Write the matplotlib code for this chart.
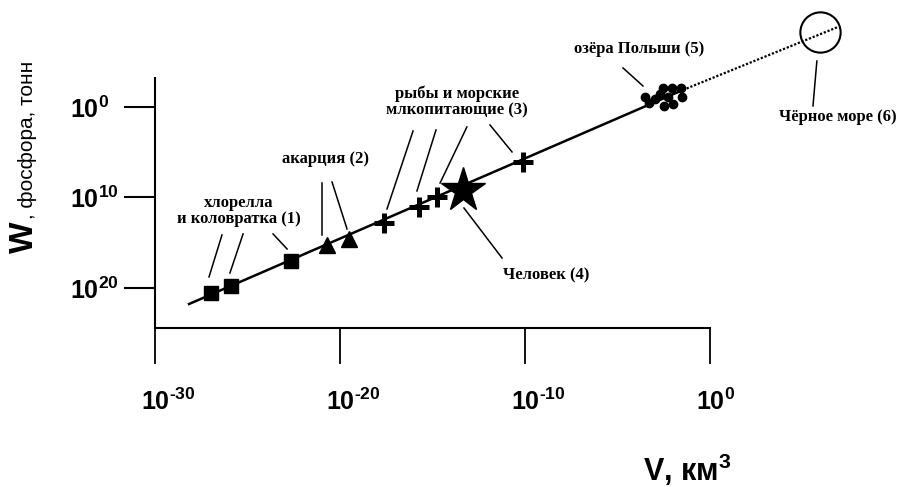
import matplotlib
matplotlib.use("Agg")
import matplotlib.pyplot as plt
from matplotlib.transforms import ScaledTranslation

plt.rcParams['mathtext.fontset'] = 'custom'
plt.rcParams['mathtext.bf'] = 'Liberation Sans:bold'
plt.rcParams['mathtext.rm'] = 'Liberation Sans'

# data: x = log10(V, km^3), y = exponent of W as drawn (10^0 top ... 10^20 bottom)
chlorella_x = [-26.97, -25.89, -22.65]
chlorella_y = [20.55, 19.78, 17.02]
acartia_x = [-20.70, -19.51]
acartia_y = [15.25, 14.59]
fish_x = [-17.62, -15.73, -14.76, -10.11]
fish_y = [12.82, 11.05, 9.94, 6.08]
human_x = [-13.35]
human_y = [9.17]
lakes_x = [-3.51, -3.30, -2.97, -2.70, -2.54, -2.49, -2.27, -2.05, -2.00, -1.57, -1.51]
lakes_y = [-1.10, -0.44, -0.88, -1.44, -2.10, -0.11, -1.10, -2.10, -0.33, -2.10, -1.10]
black_sea_x = [5.95]
black_sea_y = [-8.29]

fit_x = [-28.16, -1.46]
fit_y = [21.77, -1.88]
extrap_x = [-1.46, 6.92]
extrap_y = [-1.88, -8.84]

HY = '\u2010'
x_ticks = [-30, -20, -10, 0]
x_labels = [r'$\mathbf{10^{%s30}}$' % HY, r'$\mathbf{10^{%s20}}$' % HY,
            r'$\mathbf{10^{%s10}}$' % HY, r'$\mathbf{10^{0}}$']
y_ticks = [0, 10, 20]
y_labels = [r'$\mathbf{10^{0}}$', r'$\mathbf{10^{10}}$', r'$\mathbf{10^{20}}$']

# labels and their leader lines (x0, y0, x1, y1)
labels = [
    ("хлорелла\nи коловратка (1)", -25.46, 11.49),
    ("акарция (2)", -20.81, 5.75),
    ("рыбы и морские\nмлкопитающие (3)", -13.68, -0.55),
    ("Человек (4)", -8.86, 18.56),
    ("озёра Польши (5)", -3.84, -6.41),
    ("Чёрное море (6)", 6.92, 1.10),
]
leaders = [
    (-26.38, 14.14, -27.08, 18.78),
    (-25.24, 14.03, -25.95, 18.34),
    (-23.62, 14.03, -22.86, 15.69),
    (-20.97, 8.40, -20.97, 14.14),
    (-20.43, 8.29, -19.62, 13.48),
    (-16.05, 2.65, -17.46, 11.27),
    (-14.81, 2.54, -15.84, 9.28),
    (-13.14, 2.21, -14.59, 8.40),
    (-11.89, 1.99, -10.70, 4.97),
    (-13.30, 11.16, -11.24, 16.69),
    (-4.70, -4.31, -3.62, -2.32),
    (5.78, -5.08, 5.57, -0.11),
]

fig = plt.figure(figsize=(8.99, 4.87), dpi=100)
ax = fig.add_axes([0, 0, 1, 1])
ax.patch.set_alpha(0)
ax.set_xlim(-38.38, 10.22)
ax.set_ylim(41.99, -11.82)

# axes lines
for s in ['top', 'right']:
    ax.spines[s].set_visible(False)
ax.spines['left'].set_position(('data', -30))
ax.spines['left'].set_bounds(24.4, -3.2)
ax.spines['bottom'].set_position(('data', 24.4))
ax.spines['bottom'].set_bounds(-30, 0)
ax.spines['left'].set_linewidth(1.5)
ax.spines['bottom'].set_linewidth(1.5)

ax.set_xticks(x_ticks, labels=x_labels)
ax.set_yticks(y_ticks, labels=y_labels)
ax.tick_params(axis='x', direction='out', length=26, width=1.3, pad=18, labelsize=18)
ax.tick_params(axis='y', direction='out', length=22, width=1.5, pad=39, labelsize=18)

# "10" centred under each x tick, y labels flush left
shift = ScaledTranslation(-14 / 100, 0, fig.dpi_scale_trans)
for t in ax.xaxis.get_major_ticks():
    t.label1.set_horizontalalignment('left')
    t.label1.set_transform(t.label1.get_transform() + shift)
for t in ax.yaxis.get_major_ticks():
    t.label1.set_horizontalalignment('left')

# regression line and extrapolation
ax.plot(fit_x, fit_y, color='black', lw=1.8, zorder=2)
ax.plot(extrap_x, extrap_y, color='black', lw=1.6, ls=(0, (1, 0.8)), zorder=2)

ax.plot(chlorella_x, chlorella_y, 's', color='black', ms=10.5, zorder=3)
ax.plot(acartia_x, acartia_y, '^', color='black', ms=11, zorder=3)
ax.plot(fish_x, fish_y, '+', color='black', ms=14, mew=3.6, zorder=3)
ax.plot(human_x, human_y, '*', color='black', ms=33, zorder=3)
ax.plot(lakes_x, lakes_y, 'o', color='black', ms=6, zorder=3)
ax.plot(black_sea_x, black_sea_y, 'o', mfc='none', mec='black', ms=29, mew=1.5, zorder=3)

for x0, y0, x1, y1 in leaders:
    ax.plot([x0, x1], [y0, y1], color='black', lw=1.1)

for txt, x, y in labels:
    ax.text(x, y, txt, ha='center', va='center', family='Liberation Serif',
            fontweight='bold', fontsize=12, linespacing=1.05)

# axis titles
fig.text(33 / 899, 1 - 253 / 487, 'W', rotation=90, rotation_mode='anchor',
         ha='left', va='baseline', fontsize=24, fontweight='bold', family='Liberation Sans')
fig.text(33 / 899, 1 - 219 / 487, ', фосфора, тонн', rotation=90, rotation_mode='anchor',
         ha='left', va='baseline', fontsize=15, family='Liberation Sans')
fig.text(643 / 899, 1 - 481 / 487, r'V, км$^{\mathbf{3}}$', ha='left', va='baseline',
         fontsize=22, fontweight='bold', family='Liberation Sans')

fig.savefig('out.png', dpi=100)
